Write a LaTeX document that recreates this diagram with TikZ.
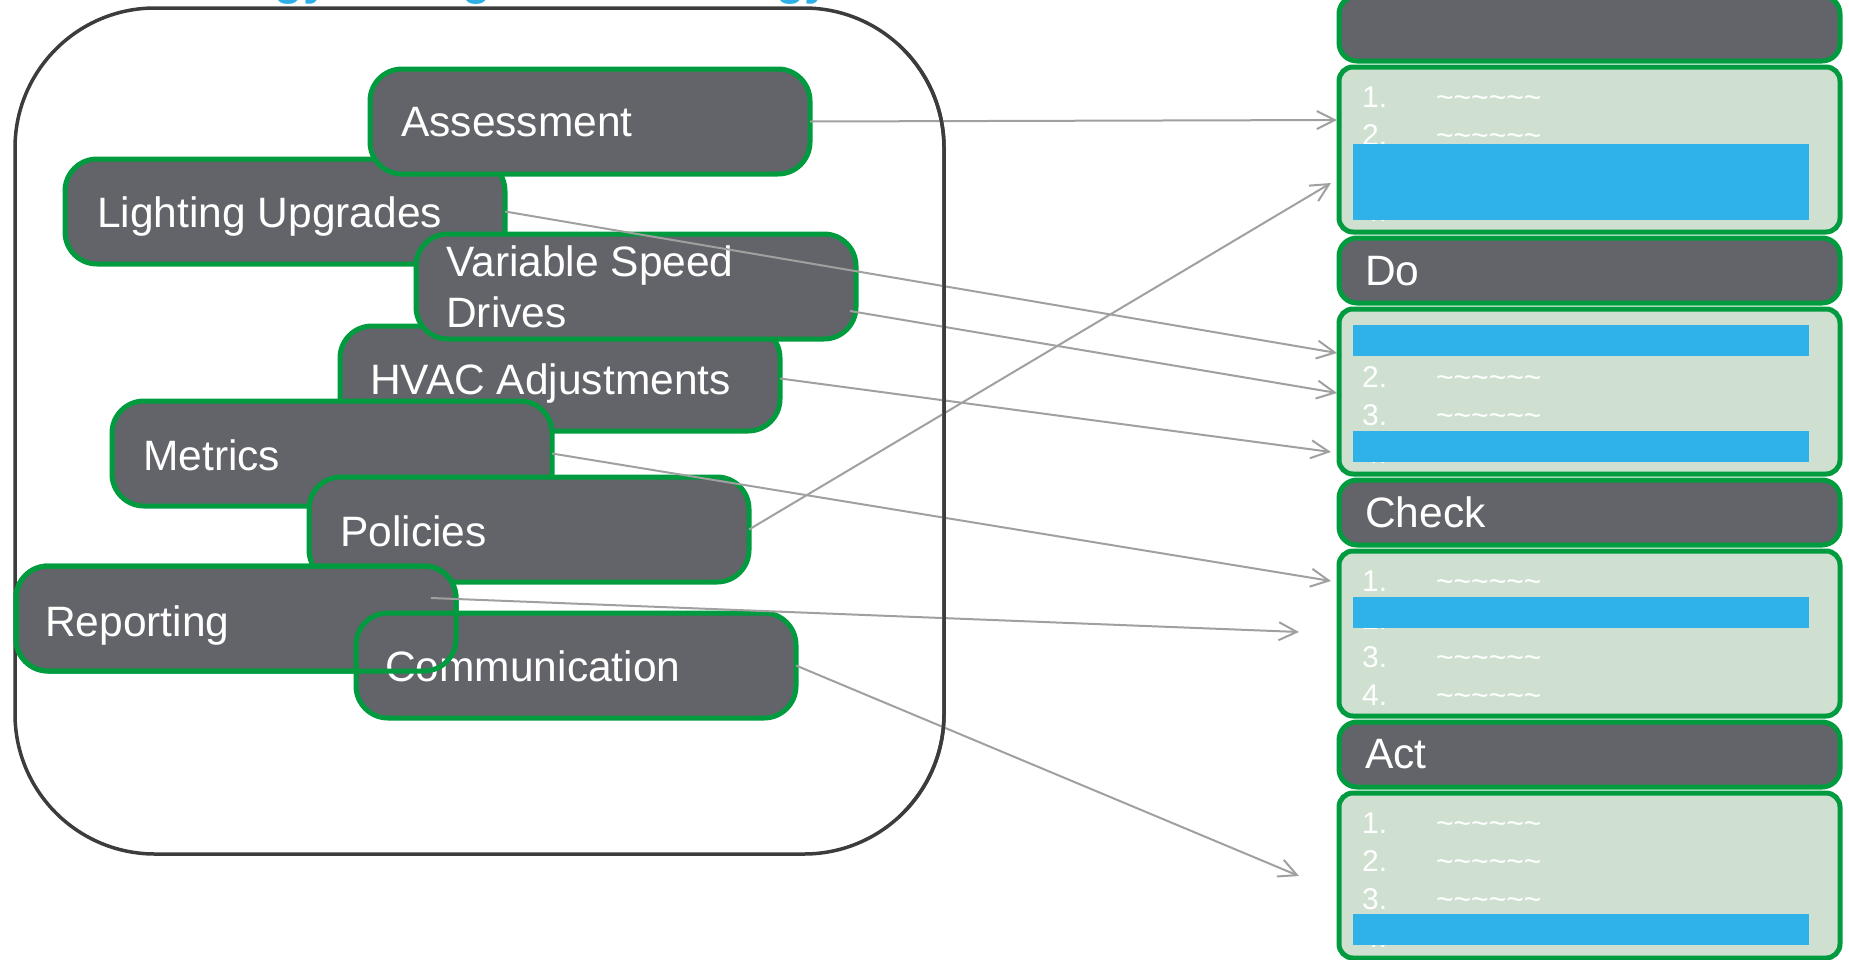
\documentclass[tikz,border=0pt]{standalone}
\usepackage{fontspec}
\setmainfont{Liberation Sans}
\usetikzlibrary{arrows.meta}
\definecolor{boxgray}{RGB}{99,100,105}
\definecolor{bgreen}{RGB}{0,155,62}
\definecolor{lightfill}{RGB}{207,224,209}
\definecolor{barblue}{RGB}{46,178,232}
\definecolor{arrgray}{RGB}{160,160,160}
\definecolor{framegray}{RGB}{60,60,60}
\definecolor{titleblue}{RGB}{46,176,230}
\newcommand\tld{\char126\relax\char126\relax\char126\relax\char126\relax\char126\relax\char126\relax}
\begin{document}
\begin{tikzpicture}[x=1pt,y=-1pt,
  lbox/.style={draw=bgreen, line width=5pt, fill=boxgray, rounded corners=32pt,
    minimum width=440pt, minimum height=105pt, inner sep=0pt, outer sep=0pt, anchor=north west},
  lbl/.style={text=white, font=\fontsize{42.5}{51}\selectfont, inner sep=0pt, anchor=base west, align=left},
  rdark/.style={draw=bgreen, line width=5pt, fill=boxgray, rounded corners=18pt,
    minimum width=501pt, minimum height=65pt, inner sep=0pt, outer sep=0pt, anchor=north west},
  rlight/.style={draw=bgreen, line width=5pt, fill=lightfill, rounded corners=14pt,
    minimum width=501pt, minimum height=165pt, inner sep=0pt, outer sep=0pt, anchor=north west},
  numtxt/.style={text=white, font=\fontsize{30}{36}\selectfont, inner sep=0pt, anchor=base west},
  bar/.style={fill=barblue},
  arr/.style={draw=arrgray, line width=2pt, -{Straight Barb[length=18pt,width=18pt]}},
  framest/.style={draw=framegray, line width=3.5pt, rounded corners=140pt}
]
\useasboundingbox (0,0) rectangle (1849,959);

% title (only its descenders fall inside the picture)
\node[anchor=base west, inner sep=0pt, text=titleblue, font=\bfseries\fontsize{47}{56}\selectfont] (title) at (170,-6) {Energy Management Strategy};

% outer frame
\draw[framest] (15,8) rectangle (944,854);

% left boxes (z-order as in the reference)
\node[lbox] (lig) at (65,159) {};
\node[lbl] (ligT) at (97,227) {Lighting Upgrades};
\node[lbox] (ass) at (370,69) {};
\node[lbl] (assT) at (401,136) {Assessment};
\node[lbox] (hva) at (340,326) {};
\node[lbl] (hvaT) at (370,394) {HVAC Adjustments};
\node[lbox] (vsd) at (416,234) {};
\node[lbl, anchor=west] (vsdT) at (446,287) {Variable Speed\\Drives};
\node[lbox] (met) at (112,401) {};
\node[lbl] (metT) at (143,470) {Metrics};
\node[lbox] (pol) at (309,477) {};
\node[lbl] (polT) at (340,546) {Policies};
\node[lbox] (rep) at (16,566) {};
\node[lbl] (repT) at (45,636) {Reporting};
\node[lbox] (com) at (356,613) {};
\node[lbl] (comT) at (385,681) {Communication};
\draw[draw=bgreen, line width=5pt, rounded corners=32pt] (rep.north west) rectangle (rep.south east);

% right column
\node[rdark] (plan) at (1339,-4) {};
\node[rlight] (l1) at (1339,67) {};
\node[rdark] (do) at (1339,238) {};
\node[rlight] (l2) at (1339,309) {};
\node[rdark] (check) at (1339,480) {};
\node[rlight] (l3) at (1339,551) {};
\node[rdark] (act) at (1339,722) {};
\node[rlight] (l4) at (1339,793) {};
\node[lbl] (doT) at (1365,285) {Do};
\node[lbl] (checkT) at (1365,527) {Check};
\node[lbl] (actT) at (1365,768) {Act};

\foreach \b/\t in {1/67,2/309,3/551,4/793}{
  \foreach \i in {1,2,3,4}{
    \node[numtxt] (n\b\i) at (1362,{\t+2+38*\i}) {\makebox[74pt][l]{\i.}\tld};
  }
}
\fill[bar] (1353,144) rectangle (1809,220);
\fill[bar] (1353,325) rectangle (1809,356);
\fill[bar] (1353,431) rectangle (1809,462);
\fill[bar] (1353,597) rectangle (1809,628);
\fill[bar] (1353,914) rectangle (1809,945);

% connectors
\coordinate (s3) at (850,311);
\coordinate (s7) at (431,598);
\coordinate (t1) at (1337,120);
\coordinate (t2) at (1337,353);
\coordinate (t3) at (1337,393);
\coordinate (t4) at (1331,452);
\coordinate (t5) at (1331,581);
\coordinate (t6) at (1331,183);
\coordinate (t7) at (1299,632);
\coordinate (t8) at (1299,876);
\draw[arr] (ass.east) -- (t1);
\draw[arr] (lig.east) -- (t2);
\draw[arr] (s3) -- (t3);
\draw[arr] (hva.east) -- (t4);
\draw[arr] (met.east) -- (t5);
\draw[arr] (pol.east) -- (t6);
\draw[arr] (s7) -- (t7);
\draw[arr] (com.east) -- (t8);

% frame's right side drawn over the connectors
\begin{scope}
\clip (900,-10) rectangle (1000,970);
\draw[framest] (15,8) rectangle (944,854);
\end{scope}
\end{tikzpicture}
\end{document}
